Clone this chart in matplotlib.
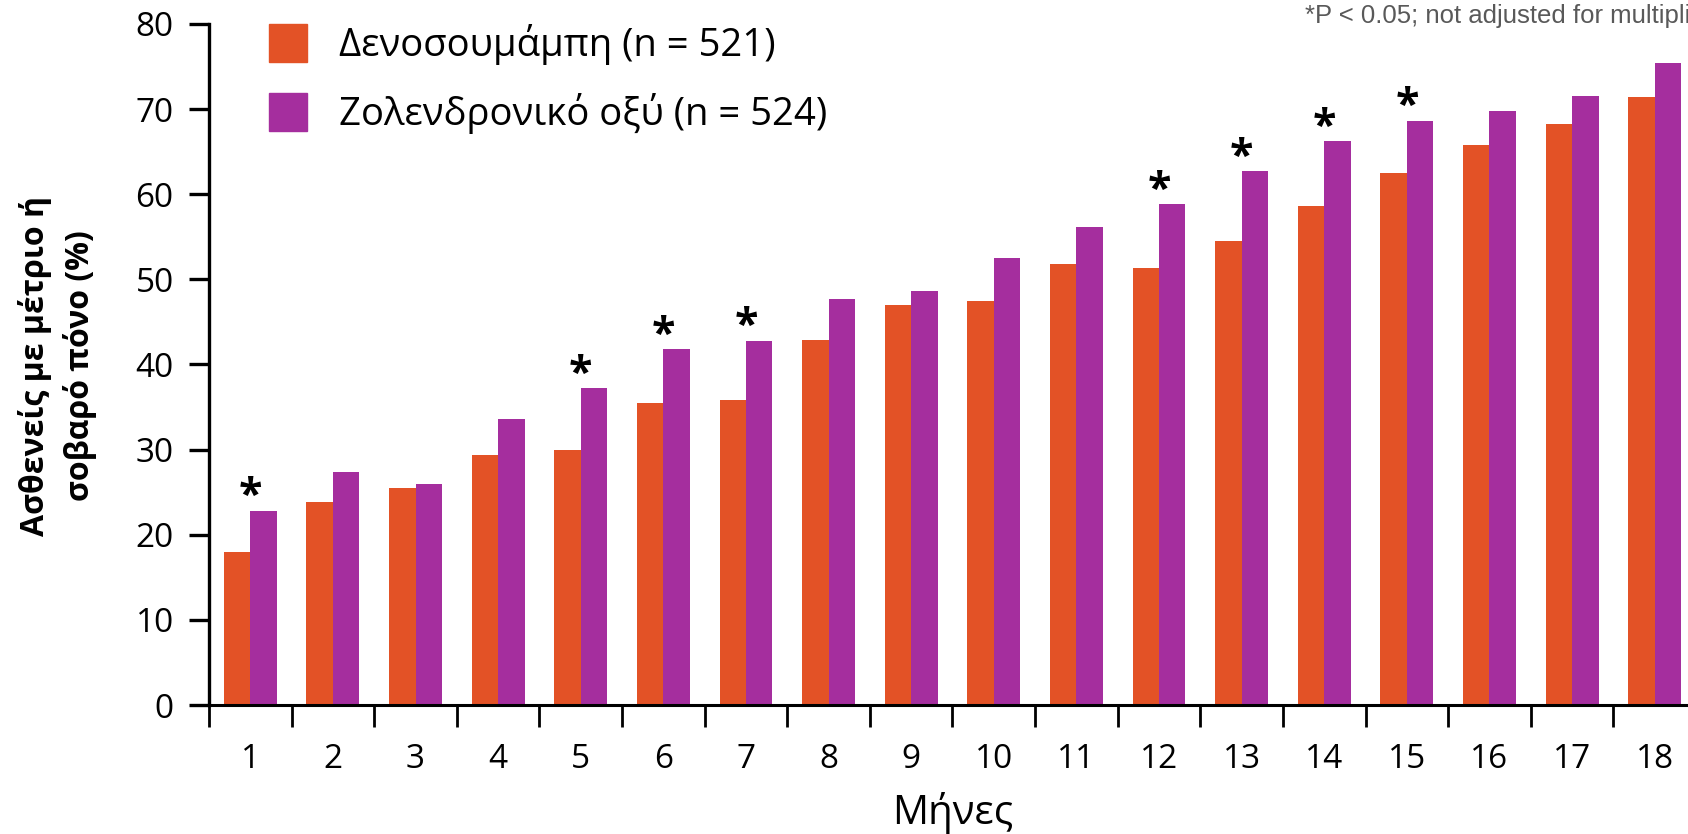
import numpy as np
import matplotlib.pyplot as plt
from matplotlib.patches import Patch

plt.rcParams['font.family'] = ['Open Sans', 'DejaVu Sans']

# monthly share of patients with moderate/severe pain (%)
months = list(range(1, 19))
denosumab = [18.0, 23.9, 25.5, 29.4, 29.9, 35.5, 35.8, 42.9, 47.0, 47.5,
             51.8, 51.3, 54.5, 58.6, 62.5, 65.8, 68.3, 71.4]
zoledronic = [22.8, 27.4, 26.0, 33.6, 37.2, 41.8, 42.8, 47.7, 48.6, 52.5,
              56.2, 58.8, 62.7, 66.2, 68.6, 69.8, 71.6, 75.4]
significant = [1, 5, 6, 7, 12, 13, 14, 15]

labels = ['Δενοσουμάμπη (n = 521)', 'Ζολενδρονικό οξύ (n = 524)']
orange = '#E35226'
purple = '#A52E9E'

fig = plt.figure(figsize=(16.88, 8.34), dpi=100)
ax = fig.add_axes([209 / 1688, 129 / 834, 1487 / 1688, 681 / 834])

x = np.array(months)
w = 0.32
ax.bar(x - w / 2, denosumab, w, color=orange)
ax.bar(x + w / 2, zoledronic, w, color=purple)

# significance markers above each flagged month
for m in significant:
    top = max(denosumab[m - 1], zoledronic[m - 1])
    ax.annotate('*', xy=(m, top), xytext=(0, -6), textcoords='offset points',
                ha='center', va='bottom', fontsize=31, fontweight='bold',
                color='black')

ax.set_xlim(0.5, 18.5)
ax.set_ylim(0, 80)
for s in ['top', 'right']:
    ax.spines[s].set_visible(False)
ax.spines['left'].set_linewidth(2.4)
ax.spines['bottom'].set_linewidth(2.2)

ax.set_yticks(range(0, 81, 10))
ax.tick_params(axis='y', length=14.4, width=2.4, pad=11, labelsize=24)

ax.set_xticks(np.arange(0.5, 18.6, 1))
ax.set_xticklabels([])
ax.set_xticks(x, minor=True)
ax.set_xticklabels([str(m) for m in months], minor=True)
ax.tick_params(axis='x', which='major', length=15.8, width=2.0, direction='out')
ax.tick_params(axis='x', which='minor', length=0, pad=27, labelsize=24)

ax.set_xlabel('Μήνες', fontsize=29, labelpad=12)
ax.set_ylabel('Ασθενείς με μέτριο ή\nσοβαρό πόνο (%)', fontsize=23,
              fontweight='bold', linespacing=1.4)
ax.yaxis.label.set_verticalalignment('center')
ax.yaxis.set_label_coords(-0.102, 0.498)

handles = [Patch(color=orange, label=labels[0]),
           Patch(color=purple, label=labels[1])]
ax.legend(handles=handles, loc='upper left', bbox_to_anchor=(269 / 1688, 1 - 24 / 834),
          bbox_transform=fig.transFigure, frameon=False, fontsize=27.5,
          handlelength=0.99, handleheight=1.15, handletextpad=0.85,
          labelspacing=0.72, borderpad=0, borderaxespad=0)

fig.text(1305 / 1688, 1 - 4 / 834, '*P < 0.05; not adjusted for multiplicity',
         ha='left', va='top', color='#595959', fontsize=18.5,
         family='Liberation Sans')

fig.savefig('out.png', dpi=100)
